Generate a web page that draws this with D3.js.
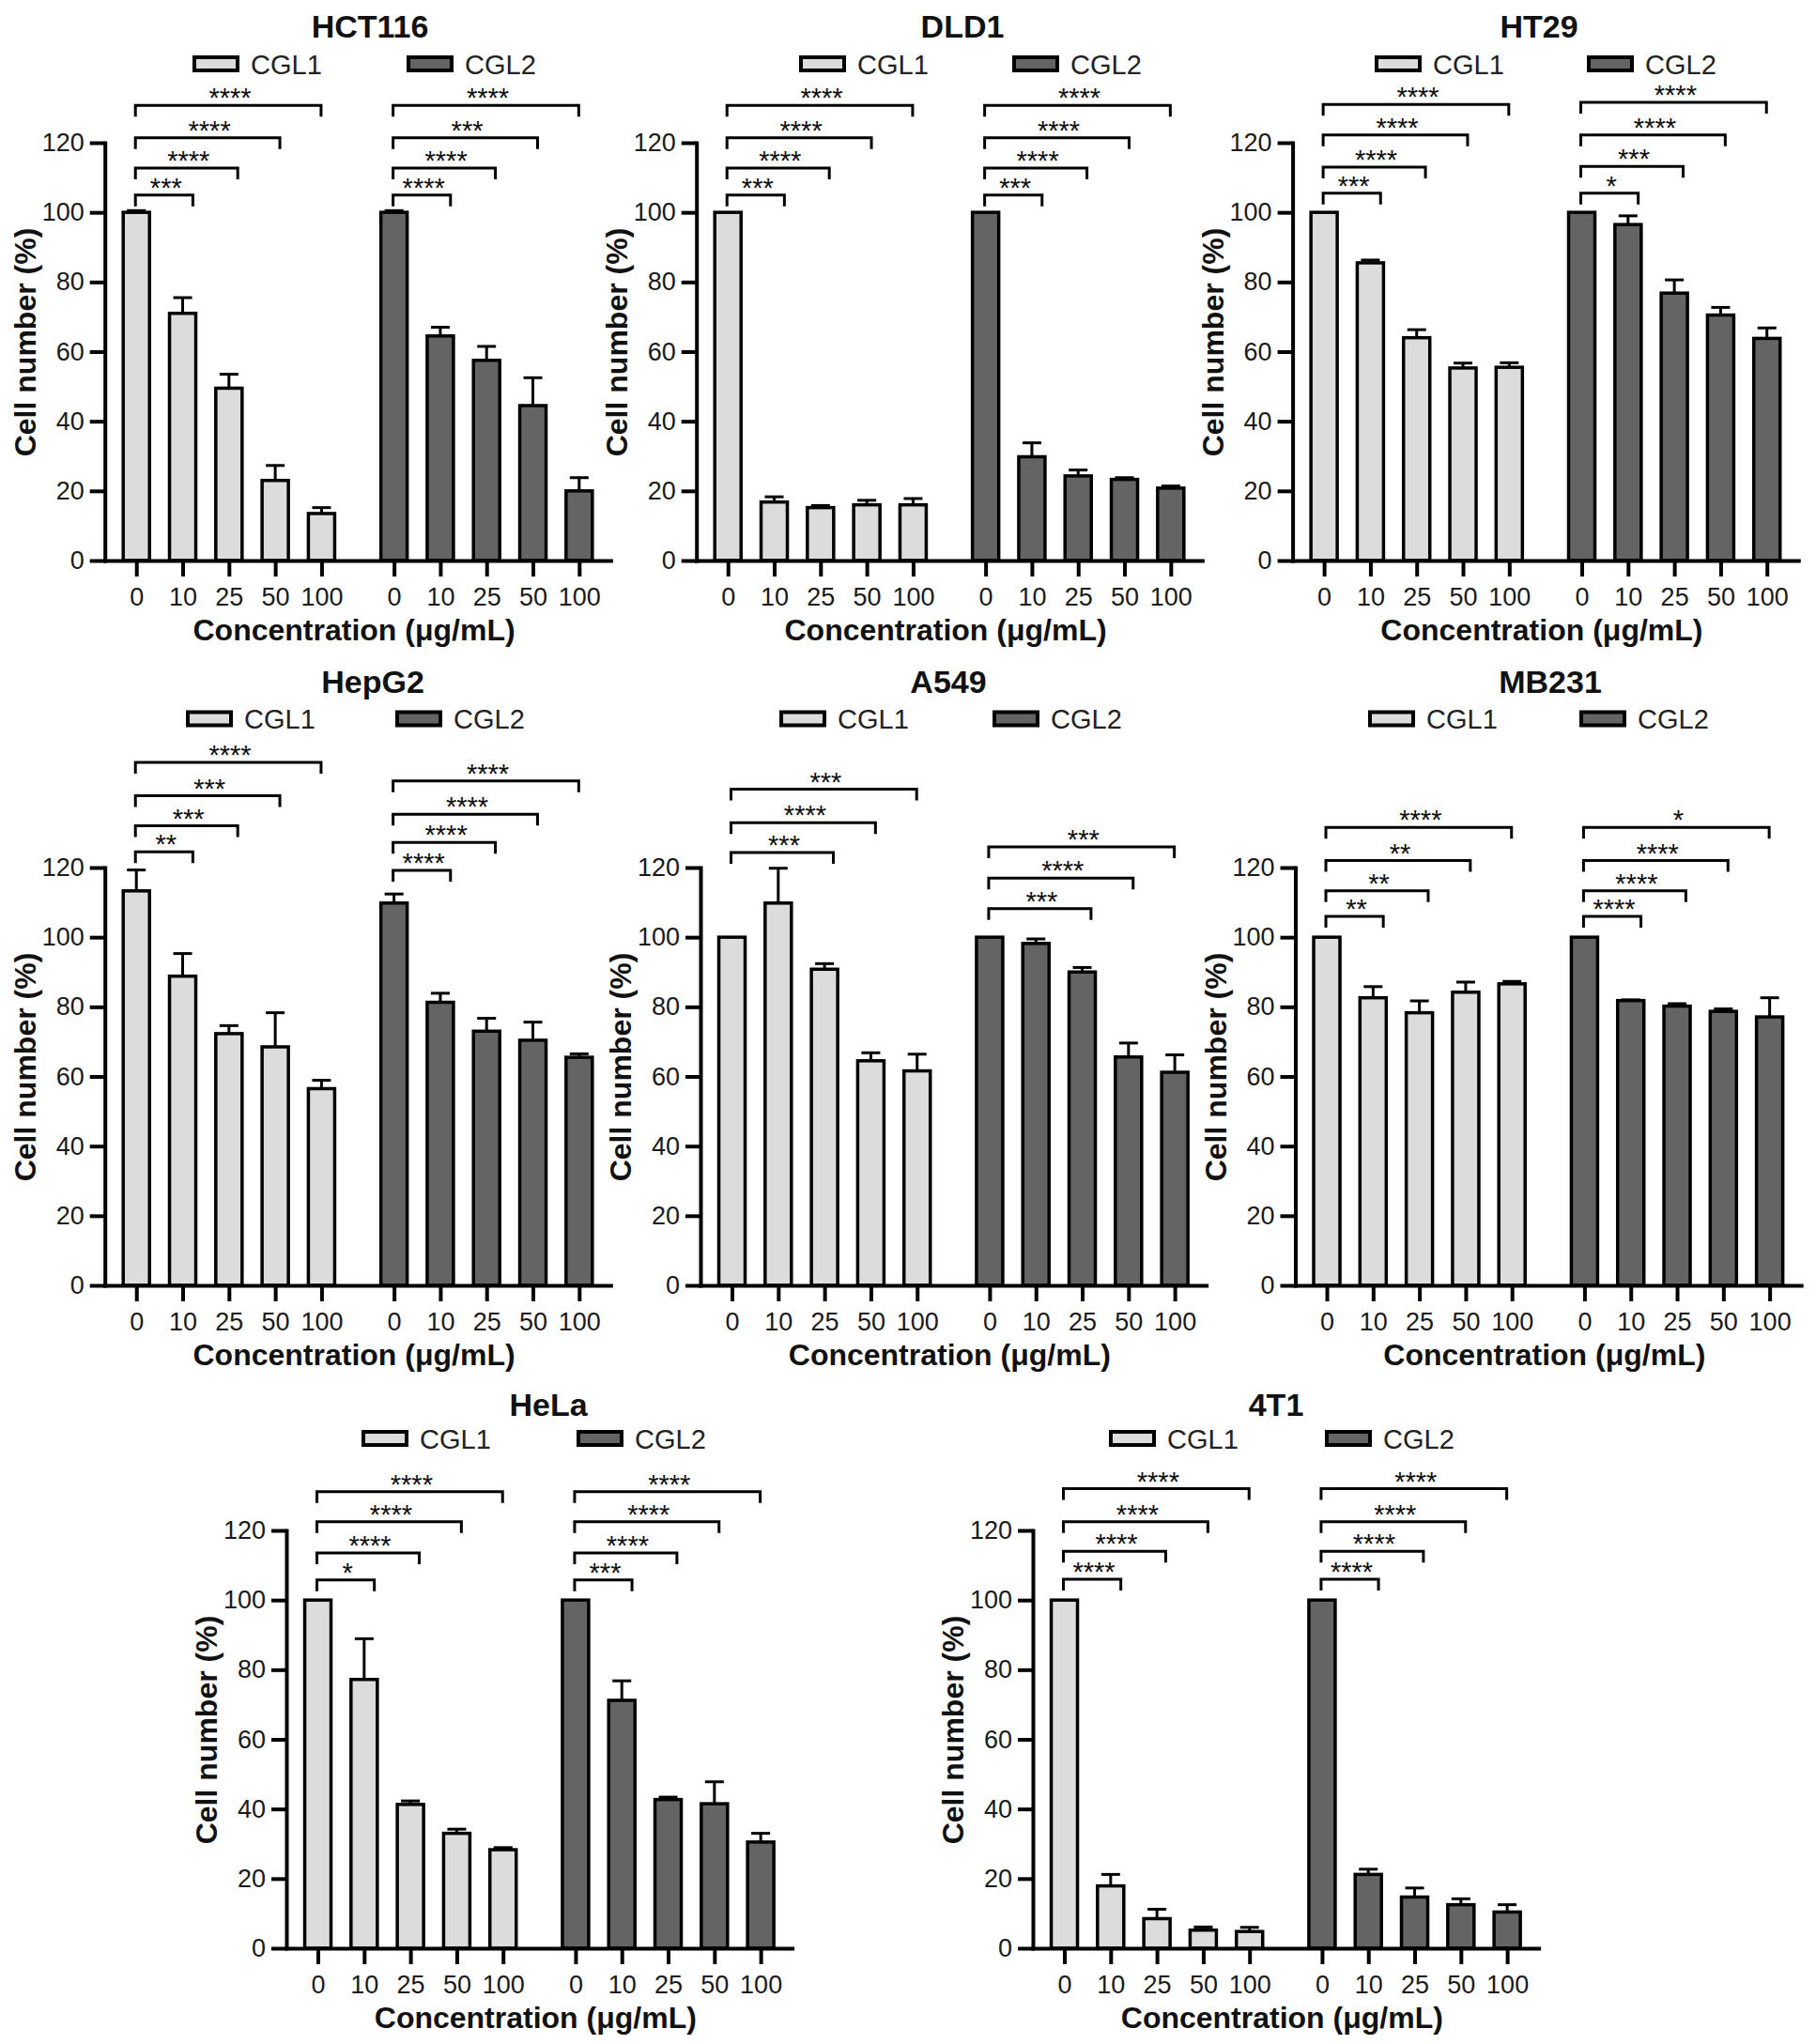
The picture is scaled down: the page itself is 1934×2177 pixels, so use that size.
<!DOCTYPE html>
<html><head><meta charset="utf-8">
<script src="https://cdn.jsdelivr.net/npm/d3@7"></script>
<style>body{margin:0;background:#fff}</style>
</head><body>
<svg id="chart" width="1934" height="2177" xmlns="http://www.w3.org/2000/svg"></svg>
<script>
// ---------------- DATA ----------------
const cellLines = ["HCT116","DLD1","HT29","HepG2","A549","MB231","HeLa","4T1"];
const concentrations = ["0","10","25","50","100"];
const series = ["CGL1","CGL2"];
const yTicks = [0,20,40,60,80,100,120];

const HCT116_CGL1 = [100,71,49.5,23,13.5];     const HCT116_CGL1_err = [0.5,4.5,4,4.3,1.7];
const HCT116_CGL2 = [100,64.5,57.5,44.5,20];    const HCT116_CGL2_err = [0.5,2.5,4,8,3.8];
const DLD1_CGL1 = [100,16.8,15.2,16,16];        const DLD1_CGL1_err = [0,1.5,0.6,1.3,1.8];
const DLD1_CGL2 = [100,29.8,24.3,23.3,20.8];    const DLD1_CGL2_err = [0,4,1.7,0.5,0.6];
const HT29_CGL1 = [100,85.5,64,55.3,55.5];      const HT29_CGL1_err = [0,0.8,2.3,1.4,1.3];
const HT29_CGL2 = [100,96.5,76.8,70.5,63.8];    const HT29_CGL2_err = [0,2.5,3.8,2.2,3];
const HepG2_CGL1 = [113.3,88.8,72.3,68.5,56.5]; const HepG2_CGL1_err = [6,6.5,2.3,9.8,2.4];
const HepG2_CGL2 = [109.8,81.3,73,70.4,65.5];   const HepG2_CGL2_err = [2.6,2.6,3.7,5.2,1];
const A549_CGL1 = [100,109.8,90.8,64.5,61.6];   const A549_CGL1_err = [0,10,1.6,2.3,4.8];
const A549_CGL2 = [100,98.2,90,65.6,61.2];      const A549_CGL2_err = [0,1.3,1.3,4,5];
const MB231_CGL1 = [100,82.6,78.3,84.2,86.6];   const MB231_CGL1_err = [0,3.2,3.4,2.9,0.7];
const MB231_CGL2 = [100,81.8,80.2,78.7,77.1];   const MB231_CGL2_err = [0,0.2,0.7,0.7,5.5];
const HeLa_CGL1 = [100,77.2,41.3,33,28.3];      const HeLa_CGL1_err = [0,11.7,1,1.2,0.6];
const HeLa_CGL2 = [100,71.2,42.7,41.5,30.5];    const HeLa_CGL2_err = [0,5.6,0.7,6.3,2.5];
const T41_CGL1 = [100,17.9,8.5,5.2,4.8];        const T41_CGL1_err = [0,3.3,2.7,0.9,1.2];
const T41_CGL2 = [100,21.2,14.7,12.5,10.4];     const T41_CGL2_err = [0,1.5,2.6,1.7,2.1];

// significance vs 0 (10, 25, 50, 100)
const HCT116_sig = [["***","****","****","****"],["****","****","***","****"]];
const DLD1_sig   = [["***","****","****","****"],["***","****","****","****"]];
const HT29_sig   = [["***","****","****","****"],["*","***","****","****"]];
const HepG2_sig  = [["**","***","***","****"],["****","****","****","****"]];
const A549_sig   = [[null,"***","****","***"],[null,"***","****","***"]];
const MB231_sig  = [["**","**","**","****"],["****","****","****","*"]];
const HeLa_sig   = [["*","****","****","****"],["***","****","****","****"]];
const T41_sig    = [["****","****","****","****"],["****","****","****","****"]];

const data = {
  HCT116:{CGL1:[HCT116_CGL1,HCT116_CGL1_err],CGL2:[HCT116_CGL2,HCT116_CGL2_err],sig:HCT116_sig},
  DLD1:{CGL1:[DLD1_CGL1,DLD1_CGL1_err],CGL2:[DLD1_CGL2,DLD1_CGL2_err],sig:DLD1_sig},
  HT29:{CGL1:[HT29_CGL1,HT29_CGL1_err],CGL2:[HT29_CGL2,HT29_CGL2_err],sig:HT29_sig},
  HepG2:{CGL1:[HepG2_CGL1,HepG2_CGL1_err],CGL2:[HepG2_CGL2,HepG2_CGL2_err],sig:HepG2_sig},
  A549:{CGL1:[A549_CGL1,A549_CGL1_err],CGL2:[A549_CGL2,A549_CGL2_err],sig:A549_sig},
  MB231:{CGL1:[MB231_CGL1,MB231_CGL1_err],CGL2:[MB231_CGL2,MB231_CGL2_err],sig:MB231_sig},
  HeLa:{CGL1:[HeLa_CGL1,HeLa_CGL1_err],CGL2:[HeLa_CGL2,HeLa_CGL2_err],sig:HeLa_sig},
  "4T1":{CGL1:[T41_CGL1,T41_CGL1_err],CGL2:[T41_CGL2,T41_CGL2_err],sig:T41_sig}
};

// ---------------- LAYOUT ----------------
const layout = {
  HCT116:{ax:111.7,zero:597,tx:394,ty:28,ly:68,l1:207,l2:435,br:[[105,112.7,121.4,130.7],[105,112.7,121.4,130.7]]},
  DLD1:{ax:741.7,zero:597,tx:1025,ty:28,ly:68,l1:853,l2:1080,br:[[105,112.7,121.4,130.7],[105,112.7,121.4,130.7]]},
  HT29:{ax:1376.6,zero:597,tx:1639,ty:28,ly:68,l1:1466,l2:1692,br:[[105.5,113,122.2,131],[105.5,113.2,122.2,131.6]]},
  HepG2:{ax:111.7,zero:1369,tx:397,ty:725.5,ly:765.5,l1:200,l2:423,br:[[124.5,132,140.6,150.2],[119.2,127.2,135.3,144.9]]},
  A549:{ax:746,zero:1369,tx:1010,ty:725.5,ly:765.5,l1:832,l2:1059,br:[[null,124.3,132.9,142.5],[null,108.2,117,125.9]]},
  MB231:{ax:1379.5,zero:1369,tx:1651,ty:725.5,ly:765.5,l1:1459,l2:1684,br:[[106,113.3,122,131.5],[106,113.3,122,131.5]]},
  HeLa:{ax:305,zero:2075,tx:584,ty:1496,ly:1532,l1:387,l2:616,br:[[105.8,113.5,122.5,131.1],[105.8,113.5,122.5,131.1]]},
  "4T1":{ax:1100,zero:2075,tx:1359,ty:1496,ly:1532,l1:1183,l2:1413,br:[[106,114,122.5,132],[106,114,122.5,132]]}
};
const S = 49.3, H = 445, OFF = 0.68, GAP = 5.566, BW = 28;
const W = OFF*2 + 4 + GAP;
const colors = {CGL1:"#dcdcdc", CGL2:"#646464"};
const FONT = "'Liberation Sans', Arial, Helvetica, sans-serif";
const brOff = [0.22,0.19,0.1,-0.01];
const slot = (si,i) => OFF + i + si*GAP;

const svg = d3.select("#chart");
svg.append("rect").attr("width",1934).attr("height",2177).attr("fill","#fff");

cellLines.forEach(name => {
  const L = layout[name], D = data[name];
  const g = svg.append("g");
  const y = d3.scaleLinear().domain([0,120]).range([L.zero, L.zero - H]);
  const x = d3.scaleLinear().domain([0,W]).range([L.ax, L.ax + W*S]);

  // title
  g.append("text").attr("x",L.tx).attr("y",L.ty+12).attr("text-anchor","middle")
    .attr("font-family",FONT).attr("font-weight","bold").attr("font-size",34).attr("fill","#111").text(name);
  // legend
  [[L.l1,"CGL1"],[L.l2,"CGL2"]].forEach(([lx,s]) => {
    g.append("rect").attr("x",lx).attr("y",L.ly-7).attr("width",46).attr("height",14)
      .attr("fill",colors[s]).attr("stroke","#000").attr("stroke-width",4);
    g.append("text").attr("x",lx+60).attr("y",L.ly+10.5).attr("font-family",FONT)
      .attr("font-size",29).attr("fill","#222").text(s);
  });

  // bars + error bars
  series.forEach((ser,si) => {
    const [vals,errs] = D[ser];
    vals.forEach((v,i) => {
      const cx = x(slot(si,i));
      if (errs[i] > 0) {
        g.append("line").attr("x1",cx).attr("x2",cx).attr("y1",y(v)).attr("y2",y(v+errs[i]))
          .attr("stroke","#000").attr("stroke-width",3);
        g.append("line").attr("x1",cx-10).attr("x2",cx+10).attr("y1",y(v+errs[i])).attr("y2",y(v+errs[i]))
          .attr("stroke","#000").attr("stroke-width",3);
      }
      g.append("rect").attr("x",cx-BW/2).attr("y",y(v)).attr("width",BW).attr("height",y(0)-y(v))
        .attr("fill",colors[ser]).attr("stroke","#000").attr("stroke-width",3.5);
    });
    // significance brackets
    D.sig[si].forEach((lab,k) => {
      if (!lab) return;
      const x1 = x(slot(si,0)) - 1, x2 = x(slot(si,k+1)) + brOff[k]*S, yy = y(L.br[si][k]);
      g.append("path").attr("d",`M${x1},${yy+12}V${yy}H${x2}V${yy+12}`)
        .attr("fill","none").attr("stroke","#000").attr("stroke-width",3);
      g.append("text").attr("x",(x1+x2)/2 + 2).attr("y",yy+2).attr("text-anchor","middle")
        .attr("font-family",FONT).attr("font-size",29).attr("fill","#111").text(lab);
    });
  });

  // axes
  const yAxis = d3.axisLeft(y).tickValues(yTicks).tickSize(16).tickSizeOuter(0).tickPadding(6);
  const ya = g.append("g").attr("transform",`translate(${L.ax},0)`).call(yAxis);
  const xt = [0,1,2,3,4].map(i=>slot(0,i)).concat([0,1,2,3,4].map(i=>slot(1,i)));
  const xAxis = d3.axisBottom(x).tickValues(xt).tickFormat((d,i)=>concentrations[i%5])
    .tickSize(17).tickSizeOuter(0).tickPadding(12);
  const xa = g.append("g").attr("transform",`translate(0,${L.zero})`).call(xAxis);
  [ya,xa].forEach(a => {
    a.select(".domain").attr("stroke","#000").attr("stroke-width",4).attr("stroke-linecap","square");
    a.selectAll(".tick line").attr("stroke","#000").attr("stroke-width",4);
    a.selectAll(".tick text").attr("font-family",FONT).attr("font-size",27).attr("fill","#1a1a1a");
  });

  // axis titles
  g.append("text").attr("transform",`translate(${L.ax-85},${(y(0)+y(120))/2 - 10}) rotate(-90)`)
    .attr("text-anchor","middle").attr("dominant-baseline","central")
    .attr("font-family",FONT).attr("font-weight","bold").attr("font-size",32).attr("fill","#111")
    .text("Cell number (%)");
  g.append("text").attr("x",L.ax + W*S/2 - 4).attr("y",L.zero+85).attr("text-anchor","middle")
    .attr("font-family",FONT).attr("font-weight","bold").attr("font-size",32).attr("fill","#111")
    .text("Concentration (μg/mL)");
});
</script>
</body></html>
